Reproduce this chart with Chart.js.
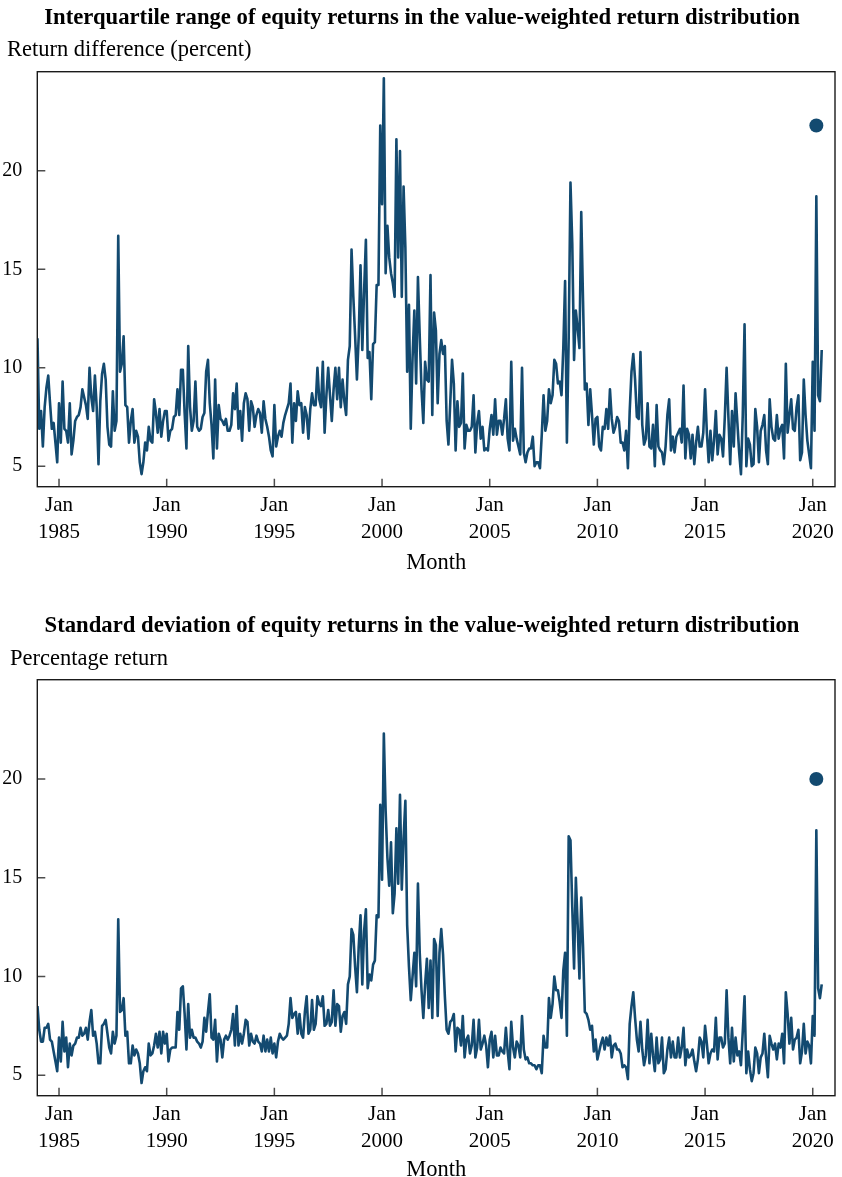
<!DOCTYPE html>
<html>
<head>
<meta charset="utf-8">
<title>Dispersion of equity returns</title>
<script src="https://cdn.jsdelivr.net/npm/chart.js@4.4.1/dist/chart.umd.min.js"></script>
<style>
  html, body { margin: 0; padding: 0; background: #ffffff; overflow: hidden; }
  canvas { position: absolute; left: 0; }
  #iqrChart { top: 0; }
  #sdChart { top: 590px; }
</style>
</head>
<body>
<canvas id="iqrChart" width="842" height="590"></canvas>
<canvas id="sdChart" width="842" height="587"></canvas>
<script>
// Monthly series start in January 1984; x values are months counted from then.
const firstYear = 1984;
const tickYears = [1985, 1990, 1995, 2000, 2005, 2010, 2015, 2020];
const yTickValues = [5, 10, 15, 20];

// Interquartile range of value-weighted equity returns (percent), Jan 1984 - Jun 2020
const iqrReturns = [
  11.5, 6.9, 7.8, 6.0, 8.0, 9.0, 9.6, 8.2, 6.9, 7.2, 6.2, 5.2,      // 1984
  8.2, 6.2, 9.3, 6.9, 6.8, 6.2, 8.2, 5.6, 6.3, 7.3, 7.5, 7.6,       // 1985
  8.0, 8.9, 8.5, 8.1, 7.4, 10.0, 8.5, 7.8, 9.6, 8.0, 5.1, 8.3,      // 1986
  9.7, 10.2, 9.4, 7.0, 6.1, 6.0, 8.8, 6.8, 7.3, 16.7, 9.8, 10.2,    // 1987
  11.6, 8.1, 8.0, 6.2, 7.3, 7.9, 6.2, 6.8, 6.5, 5.2, 4.6, 5.2,      // 1988
  6.2, 5.8, 7.0, 6.3, 6.2, 8.4, 7.7, 6.7, 7.9, 6.5, 7.3, 7.8,       // 1989
  7.8, 6.3, 6.8, 6.9, 7.5, 7.6, 8.9, 7.6, 9.9, 9.9, 7.7, 5.9,       // 1990
  11.1, 8.0, 6.8, 7.3, 9.3, 7.0, 6.8, 6.9, 7.5, 7.7, 9.8, 10.4,     // 1991
  8.2, 7.1, 5.4, 9.4, 5.9, 8.1, 7.4, 7.3, 7.1, 7.4, 6.8, 6.8,       // 1992
  7.1, 8.7, 7.9, 9.2, 6.9, 7.8, 6.3, 8.2, 8.7, 8.4, 6.8, 8.3,       // 1993
  8.0, 7.0, 7.6, 7.9, 7.7, 6.7, 8.3, 7.4, 7.0, 6.5, 5.8, 5.5,       // 1994
  8.1, 6.0, 6.5, 6.8, 6.5, 7.2, 7.6, 7.9, 8.2, 9.2, 6.2, 8.2,       // 1995
  7.3, 8.8, 8.1, 8.2, 6.7, 8.0, 7.6, 6.4, 7.9, 8.7, 8.1, 8.1,       // 1996
  10.0, 8.4, 8.0, 10.3, 6.7, 8.6, 10.0, 8.6, 7.3, 8.9, 10.0, 8.4,   // 1997
  10.0, 8.0, 9.4, 8.3, 7.6, 10.4, 11.1, 16.0, 13.6, 11.6, 9.4, 11.6, // 1998
  15.2, 10.9, 13.9, 16.5, 10.5, 10.8, 8.4, 11.2, 11.3, 14.2, 14.2, 22.3, // 1999
  18.3, 24.7, 14.8, 17.2, 15.6, 14.8, 14.3, 13.6, 21.6, 15.6, 21.0, 13.6, // 2000
  19.2, 16.1, 9.8, 13.2, 6.9, 10.5, 12.9, 9.2, 14.6, 11.6, 8.9, 7.2, // 2001
  10.3, 9.4, 9.3, 14.7, 7.6, 12.8, 11.9, 8.2, 10.7, 11.4, 10.7, 11.1, // 2002
  7.3, 6.1, 8.2, 10.4, 9.2, 5.8, 8.3, 7.0, 7.2, 9.7, 5.9, 7.1,      // 2003
  6.8, 6.8, 7.0, 8.6, 5.7, 7.2, 7.8, 6.4, 7.0, 5.8, 5.9, 5.8,       // 2004
  6.9, 7.6, 6.6, 8.4, 6.6, 7.3, 7.3, 6.6, 7.4, 8.4, 6.4, 5.8,       // 2005
  10.3, 6.3, 6.9, 6.4, 6.0, 5.6, 10.0, 5.7, 5.2, 5.7, 5.9, 5.9,     // 2006
  6.5, 5.0, 5.2, 5.2, 4.9, 6.6, 8.6, 6.8, 7.3, 8.9, 8.2, 8.6,       // 2007
  10.4, 10.2, 9.2, 9.3, 8.6, 11.0, 14.4, 6.2, 11.5, 19.4, 16.3, 10.4, // 2008
  12.9, 12.0, 11.0, 17.9, 13.4, 8.9, 9.2, 7.1, 8.9, 7.6, 6.1, 7.4,  // 2009
  7.5, 6.0, 5.8, 7.0, 6.9, 7.9, 6.9, 8.9, 7.4, 6.7, 7.0, 7.5,       // 2010
  7.3, 6.2, 6.2, 5.8, 6.8, 4.9, 7.8, 9.8, 10.7, 9.4, 7.5, 7.4,      // 2011
  10.8, 7.1, 6.1, 6.4, 8.2, 6.0, 5.9, 7.1, 5.0, 8.1, 6.0, 5.8,      // 2012
  5.7, 5.1, 6.0, 7.6, 8.4, 5.8, 6.5, 5.7, 6.5, 6.7, 6.9, 6.2,       // 2013
  9.1, 5.4, 6.9, 6.6, 5.4, 6.6, 5.1, 6.2, 7.0, 6.0, 6.0, 6.7,       // 2014
  8.9, 6.7, 5.2, 6.8, 5.3, 6.3, 7.8, 5.6, 6.6, 6.4, 5.5, 7.5,       // 2015
  10.0, 7.5, 5.1, 7.8, 6.0, 8.7, 7.2, 5.7, 4.6, 7.6, 12.2, 5.0,     // 2016
  6.4, 6.1, 5.0, 5.1, 7.9, 7.0, 5.2, 6.8, 7.1, 7.6, 5.8, 5.1,       // 2017
  8.4, 7.0, 6.4, 6.3, 7.6, 6.4, 6.9, 7.1, 5.4, 10.2, 6.7, 7.6,      // 2018
  8.4, 6.9, 6.8, 8.0, 8.6, 5.3, 5.7, 9.4, 7.6, 6.3, 5.6, 4.9,       // 2019
  10.3, 6.8, 18.7, 8.6, 8.3, 10.9                                   // 2020
];

// Standard deviation of value-weighted equity returns (percent), Jan 1984 - Jun 2020
const sdReturns = [
  8.5, 7.3, 6.7, 6.7, 7.4, 7.4, 7.6, 6.8, 6.7, 6.2, 5.7, 5.2,       // 1984
  6.9, 5.7, 7.7, 6.2, 6.9, 5.4, 6.6, 6.0, 6.5, 6.6, 6.9, 6.9,       // 1985
  7.4, 7.0, 7.1, 7.4, 6.8, 7.7, 8.3, 7.0, 7.2, 6.6, 5.6, 5.6,       // 1986
  7.5, 7.6, 7.8, 7.1, 6.4, 6.1, 7.2, 6.6, 7.0, 12.9, 8.2, 8.3,      // 1987
  8.9, 7.0, 7.2, 5.6, 5.6, 6.5, 6.0, 6.3, 6.1, 5.6, 4.6, 5.2,       // 1988
  5.4, 5.2, 6.6, 6.0, 6.1, 6.5, 7.1, 6.4, 7.2, 6.1, 7.2, 6.6,       // 1989
  7.1, 5.7, 6.3, 6.4, 6.4, 6.4, 8.2, 7.3, 9.4, 9.5, 8.1, 6.3,       // 1990
  8.6, 6.9, 7.3, 6.9, 6.9, 6.7, 6.6, 6.4, 6.7, 7.9, 7.2, 8.2,       // 1991
  9.1, 6.9, 6.8, 7.8, 5.7, 7.1, 6.8, 5.9, 6.8, 7.0, 6.8, 7.0,       // 1992
  7.3, 8.1, 6.5, 8.5, 6.5, 7.1, 6.6, 7.1, 7.8, 7.7, 6.5, 7.1,       // 1993
  6.7, 6.6, 7.0, 6.7, 6.6, 6.2, 7.0, 6.2, 6.8, 6.2, 6.9, 6.1,       // 1994
  6.6, 5.9, 6.7, 7.1, 6.9, 6.8, 6.9, 7.0, 7.6, 8.9, 7.9, 8.1,       // 1995
  8.2, 7.1, 8.1, 7.1, 6.9, 8.2, 9.0, 7.1, 7.3, 8.8, 7.3, 7.6,       // 1996
  9.0, 8.6, 8.5, 9.0, 7.5, 7.6, 8.3, 7.5, 7.7, 9.3, 7.5, 8.6,       // 1997
  8.5, 7.2, 8.0, 8.2, 7.6, 9.6, 10.0, 12.4, 12.1, 10.5, 9.2, 11.5,  // 1998
  13.1, 9.6, 12.3, 13.4, 9.4, 10.1, 9.8, 10.6, 10.8, 13.1, 13.0, 18.7, // 1999
  14.9, 22.3, 18.4, 16.0, 14.6, 16.8, 13.2, 14.2, 17.5, 14.7, 19.2, 14.4, // 2000
  17.0, 18.9, 12.6, 10.5, 8.8, 10.0, 11.2, 9.5, 14.7, 11.2, 9.3, 7.9, // 2001
  9.6, 10.9, 8.4, 10.8, 7.9, 11.9, 11.6, 8.0, 11.2, 12.4, 11.1, 9.0, // 2002
  7.3, 7.1, 7.7, 7.8, 8.1, 6.2, 7.4, 7.3, 6.5, 8.0, 5.9, 6.8,       // 2003
  7.0, 6.1, 6.5, 7.8, 5.9, 6.4, 7.8, 6.3, 6.6, 7.0, 6.5, 5.4,       // 2004
  6.8, 7.2, 5.9, 7.0, 6.0, 6.0, 6.4, 6.2, 6.1, 7.4, 6.2, 5.3,       // 2005
  7.7, 6.4, 5.9, 6.7, 6.5, 5.9, 8.0, 6.3, 5.8, 5.9, 5.6, 5.6,       // 2006
  5.5, 5.5, 5.3, 5.5, 5.5, 5.1, 7.0, 6.4, 6.4, 8.9, 7.9, 8.6,       // 2007
  10.0, 9.3, 9.3, 8.7, 7.9, 10.3, 11.2, 7.0, 17.1, 16.9, 13.5, 10.4, // 2008
  15.0, 12.6, 9.9, 14.0, 11.5, 8.2, 8.1, 7.8, 7.3, 7.5, 6.2, 6.8,   // 2009
  5.8, 6.2, 6.6, 6.9, 6.3, 6.9, 6.5, 7.0, 5.9, 6.5, 6.6, 6.3,       // 2010
  6.3, 6.1, 5.4, 5.5, 5.4, 4.8, 7.6, 8.5, 9.2, 7.9, 6.8, 6.2,       // 2011
  7.7, 6.3, 5.5, 6.0, 7.8, 5.6, 7.1, 6.0, 5.2, 6.9, 5.6, 5.8,       // 2012
  6.9, 5.1, 5.3, 6.3, 6.9, 5.9, 6.7, 5.9, 5.9, 6.9, 5.9, 6.4,       // 2013
  7.4, 5.5, 6.3, 5.9, 6.0, 6.3, 5.7, 5.2, 5.8, 6.9, 6.7, 5.9,       // 2014
  7.5, 6.6, 5.6, 6.1, 6.3, 6.2, 7.9, 5.8, 6.9, 6.9, 6.4, 6.6,       // 2015
  9.3, 6.9, 5.6, 7.4, 5.7, 6.9, 6.0, 6.2, 5.5, 7.2, 9.0, 5.1,       // 2016
  6.2, 5.3, 4.7, 5.1, 6.4, 6.1, 5.1, 5.9, 6.1, 7.1, 5.9, 4.9,       // 2017
  7.0, 6.6, 6.3, 6.6, 5.8, 6.6, 6.4, 7.1, 5.6, 9.2, 8.1, 6.6,       // 2018
  7.9, 6.3, 6.8, 6.9, 7.3, 5.6, 6.2, 7.6, 6.1, 6.7, 6.5, 5.6,       // 2019
  8.0, 7.0, 17.4, 9.4, 8.9, 9.6                                     // 2020
];

// Single highlighted reading for March 2020
const highlightYear = 2020;
const highlightMonth = 3;
const highlightIqr = 22.3;
const highlightSd = 20.0;

const lineColor = '#134a70';
const serif = "'Liberation Serif', 'Times New Roman', Times, serif";

Chart.defaults.color = '#000000';
Chart.defaults.font.family = serif;

function monthIndex(year, month) {
  return (year - firstYear) * 12 + (month - 1);
}

// Frame around the plot area, short inward tick marks, the bold chart
// title and the horizontal value-axis heading above the plot's top-left corner.
const frameAndInnerTicks = {
  id: 'frameAndInnerTicks',
  afterDraw(chart, args, opts) {
    const { ctx, chartArea: a } = chart;
    const xs = chart.scales.x;
    const ys = chart.scales.y;
    ctx.save();
    ctx.strokeStyle = '#4d4d4d';
    ctx.lineWidth = 1.5;
    ctx.beginPath();
    ys.ticks.forEach(t => {
      const py = ys.getPixelForValue(t.value);
      ctx.moveTo(a.left, py);
      ctx.lineTo(a.left + 8, py);
    });
    xs.ticks.forEach(t => {
      const px = xs.getPixelForValue(t.value);
      ctx.moveTo(px, a.bottom);
      ctx.lineTo(px, a.bottom - 8);
    });
    ctx.stroke();
    ctx.strokeStyle = '#1a1a1a';
    ctx.lineWidth = 1.4;
    ctx.strokeRect(a.left, a.top, a.right - a.left, a.bottom - a.top);

    ctx.fillStyle = '#000000';
    ctx.textBaseline = 'middle';
    ctx.font = 'bold 22.7px ' + serif;
    ctx.textAlign = 'center';
    ctx.fillText(opts.title, opts.titleX, opts.titleY);
    ctx.font = '22.5px ' + serif;
    ctx.textAlign = 'left';
    ctx.fillText(opts.heading, opts.headingX, opts.headingY);
    ctx.restore();
  }
};

function buildChart(canvasId, cfg) {
  const points = cfg.values.map((v, i) => ({ x: i, y: v }));
  return new Chart(document.getElementById(canvasId), {
    type: 'line',
    data: {
      datasets: [
        {
          data: points,
          borderColor: lineColor,
          borderWidth: 2.6,
          borderJoinStyle: 'round',
          pointRadius: 0,
          tension: 0
        },
        {
          data: [{ x: monthIndex(highlightYear, highlightMonth), y: cfg.highlight }],
          showLine: false,
          pointRadius: 7,
          pointHoverRadius: 7,
          pointBackgroundColor: lineColor,
          pointBorderColor: lineColor,
          pointBorderWidth: 0
        }
      ]
    },
    options: {
      responsive: false,
      animation: false,
      events: [],
      layout: { padding: { left: 0, right: 6, top: cfg.plotTop, bottom: 0 } },
      plugins: {
        legend: { display: false },
        tooltip: { enabled: false },
        title: { display: false },
        frameAndInnerTicks: {
          title: cfg.title,
          titleX: 422,
          titleY: cfg.titleY,
          heading: cfg.yTitle,
          headingX: cfg.headingX,
          headingY: cfg.headingY
        }
      },
      scales: {
        x: {
          type: 'linear',
          min: -0.1,
          max: 444.4,
          grid: { display: false, drawTicks: false },
          border: { display: false },
          afterBuildTicks: scale => {
            scale.ticks = tickYears.map(yr => ({ value: monthIndex(yr, 1) }));
          },
          afterFit: scale => { scale.height = cfg.xAxisHeight; },
          ticks: {
            autoSkip: false,
            maxRotation: 0,
            minRotation: 0,
            padding: 5,
            font: { size: 21, lineHeight: 1.28 },
            callback: value => ['Jan', String(firstYear + Math.round(value / 12))]
          },
          title: {
            display: true,
            text: 'Month',
            font: { size: 22.5, lineHeight: 1.0 },
            padding: { top: 0, bottom: cfg.monthPad }
          }
        },
        y: {
          type: 'linear',
          min: 3.96,
          max: 25.03,
          grid: { display: false, drawTicks: false },
          border: { display: false },
          afterBuildTicks: scale => {
            scale.ticks = yTickValues.map(v => ({ value: v }));
          },
          afterFit: scale => { scale.width = 37.3; },
          ticks: {
            padding: 15,
            font: { size: 20 },
            callback: value => String(value)
          }
        }
      }
    },
    plugins: [frameAndInnerTicks]
  });
}

buildChart('iqrChart', {
  values: iqrReturns,
  highlight: highlightIqr,
  title: 'Interquartile range of equity returns in the value-weighted return distribution',
  yTitle: 'Return difference (percent)',
  titleY: 18,
  headingX: 7,
  headingY: 50,
  plotTop: 71.7,
  xAxisHeight: 103.3,
  monthPad: 16
});

buildChart('sdChart', {
  values: sdReturns,
  highlight: highlightSd,
  title: 'Standard deviation of equity returns in the value-weighted return distribution',
  yTitle: 'Percentage return',
  titleY: 36.6,
  headingX: 10,
  headingY: 69,
  plotTop: 89.7,
  xAxisHeight: 81.3,
  monthPad: -4
});
</script>
</body>
</html>
